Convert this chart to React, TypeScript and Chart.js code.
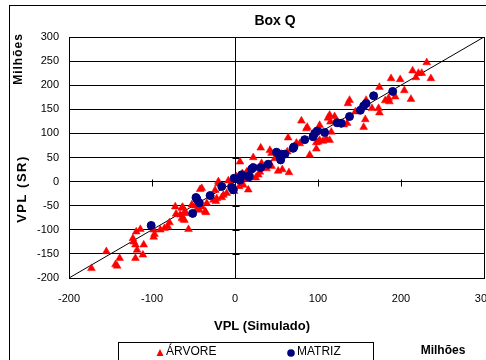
import React, { useEffect, useRef } from "react";
import { Chart, registerables } from "chart.js";
Chart.register(...registerables);

const chartTitle = "Box Q";
const xAxisTitle = "VPL (Simulado)";
const yAxisTitle = "VPL (SR)";
const unitLabel = "Milhões";
const seriesNames = ["ÁRVORE", "MATRIZ"];

const xMin = -200;
const xMax = 300;
const xStep = 100;
const yMin = -200;
const yMax = 300;
const yStep = 50;

const diagonal: [number, number][] = [
  [-200, -200],
  [300, 300],
];

const arvorePoints: [number, number][] = [
  [-173, -180], [-155, -145], [-142, -175], [-139, -159], [-144, -172],
  [-123, -118], [-119, -104], [-114, -99], [-120, -131], [-118, -142], [-110, -131], [-111, -152], [-120, -159], [-122, -125],
  [-98, -100], [-98, -115], [-97, -109], [-90, -100], [-85, -97], [-81, -93], [-79, -85],
  [-72, -52], [-71, -67], [-66, -69], [-62, -78], [-64, -55], [-60, -66], [-56, -99], [-61, -80], [-52, -48],
  [-63, -53], [-60, -62], [-64, -76],
  [-48, -50], [-45, -55], [-40, -52], [-36, -62], [-35, -64], [-34, -45], [-43, -59], [-42, -16],
  [-26, -38], [-23, -41], [-22, -35], [-20, 0], [-20, -4], [-14, -28], [-16, -33], [-10, -24], [-1, -20], [-24, -18], [-40, -14],
  [6, 41], [9, 17], [16, -17], [10, -7], [2, 10], [12, 5], [20, 12], [25, 8], [-5, -5], [5, -10], [30, 20], [-8, 2],
  [31, 70], [22, 50], [44, 59], [65, 19], [64, 91], [80, 126], [86, 110], [90, 55], [98, 68], [114, 138], [112, 132], [120, 135],
  [52, 22], [38, 27], [28, 14], [44, 32], [63, 62], [78, 79], [74, 80], [102, 86], [106, 84], [100, 82], [14, 20], [32, 38],
  [36, 31], [48, 48], [57, 25], [42, 65],
  [231, 247], [236, 214], [225, 225], [221, 225], [218, 216], [214, 230], [188, 214], [199, 212], [174, 196], [204, 189],
  [193, 176], [185, 173], [181, 168], [212, 171], [186, 166], [138, 169], [136, 162], [158, 169], [165, 152], [173, 152],
  [174, 143], [157, 129], [155, 113], [145, 145], [135, 121], [131, 118], [115, 124], [116, 103], [102, 117], [102, 107],
  [87, 113], [98, 81], [114, 86], [110, 89],
];

const matrizPoints: [number, number][] = [
  [-101, -91], [-51, -66], [-47, -33], [-43, -44], [-46, -36], [-30, -29], [-16, -10], [-4, -12], [-2, -17], [-1, 7],
  [6, 5], [8, 14], [16, 11], [6, 3], [17, 10], [20, 26], [22, 29], [31, 29], [40, 36], [50, 61],
  [54, 52], [56, 57], [60, 57], [55, 45], [70, 69], [71, 72], [84, 87], [94, 93], [96, 100], [99, 105],
  [108, 102], [123, 122], [128, 121], [138, 135], [151, 148], [155, 157], [158, 162], [167, 178], [190, 187],
];

const RED = "#ff0000";
const NAVY = "#000080";
const FONT = "'Liberation Sans', Arial, sans-serif";

const toXY = (pts: [number, number][]) => pts.map(([x, y]) => ({ x, y }));

const decorPlugin = {
  id: "decor",
  beforeDraw(chart: any) {
    const ctx = chart.ctx as CanvasRenderingContext2D;
    ctx.save();
    ctx.fillStyle = "#fff";
    ctx.fillRect(0, 0, chart.width, chart.height);
    ctx.strokeStyle = "#000";
    ctx.lineWidth = 1;
    ctx.strokeRect(9.5, 5.5, 600, 500);
    ctx.restore();
  },
  beforeDatasetsDraw(chart: any) {
    const ctx = chart.ctx as CanvasRenderingContext2D;
    const xs = chart.scales.x;
    const ys = chart.scales.y;
    const x0 = Math.round(xs.getPixelForValue(0)) + 0.5;
    const y0 = Math.round(ys.getPixelForValue(0)) + 0.5;
    ctx.save();
    ctx.strokeStyle = "#000";
    ctx.lineWidth = 1;
    ctx.beginPath();
    xs.ticks.forEach((t: any) => {
      const px = Math.round(xs.getPixelForValue(t.value)) + 0.5;
      ctx.moveTo(px, y0 - 3);
      ctx.lineTo(px, y0 + 4);
    });
    ys.ticks.forEach((t: any) => {
      const py = Math.round(ys.getPixelForValue(t.value)) + 0.5;
      ctx.moveTo(x0 - 3, py);
      ctx.lineTo(x0 + 4, py);
    });
    ctx.stroke();
    ctx.restore();
  },
  afterDraw(chart: any) {
    const ctx = chart.ctx as CanvasRenderingContext2D;
    ctx.save();
    ctx.fillStyle = "#000";
    // title
    ctx.font = `bold 14px ${FONT}`;
    ctx.textAlign = "center";
    ctx.textBaseline = "middle";
    ctx.fillText(chartTitle, 275, 21);
    // x axis title
    ctx.font = `bold 13px ${FONT}`;
    ctx.fillText(xAxisTitle, 262, 326);
    // unit under x
    ctx.font = `bold 12px ${FONT}`;
    ctx.fillText(unitLabel, 443, 351);
    // rotated y texts
    ctx.save();
    ctx.translate(22, 189);
    ctx.rotate(-Math.PI / 2);
    ctx.font = `bold 13px ${FONT}`;
    (ctx as any).letterSpacing = "1.5px";
    ctx.fillText(yAxisTitle, 0, 0);
    ctx.restore();
    ctx.save();
    ctx.translate(19, 59);
    ctx.rotate(-Math.PI / 2);
    ctx.font = `bold 12px ${FONT}`;
    (ctx as any).letterSpacing = "1px";
    ctx.fillText(unitLabel, 0, 0);
    ctx.restore();
    // legend box
    ctx.strokeStyle = "#000";
    ctx.lineWidth = 1;
    ctx.strokeRect(118.5, 342.5, 255, 40);
    ctx.font = `12px ${FONT}`;
    ctx.textAlign = "left";
    // triangle marker
    ctx.fillStyle = RED;
    ctx.beginPath();
    ctx.moveTo(160, 349);
    ctx.lineTo(163.5, 356);
    ctx.lineTo(156.5, 356);
    ctx.closePath();
    ctx.fill();
    ctx.fillStyle = "#000";
    ctx.fillText(seriesNames[0], 166, 352);
    ctx.fillStyle = NAVY;
    ctx.beginPath();
    ctx.arc(291, 353, 3.8, 0, Math.PI * 2);
    ctx.fill();
    ctx.fillStyle = "#000";
    ctx.fillText(seriesNames[1], 297, 352);
    ctx.restore();
  },
};

export default function App() {
  const ref = useRef<HTMLCanvasElement | null>(null);
  useEffect(() => {
    if (!ref.current) return;
    const chart = new Chart(ref.current, {
      type: "scatter",
      data: {
        datasets: [
          {
            label: seriesNames[1],
            data: toXY(matrizPoints),
            pointStyle: "circle",
            pointRadius: 4,
            pointHoverRadius: 4,
            backgroundColor: NAVY,
            borderColor: NAVY,
            borderWidth: 1,
            order: 0,
          },
          {
            label: seriesNames[0],
            data: toXY(arvorePoints),
            pointStyle: "triangle",
            pointRadius: 4.5,
            pointHoverRadius: 4.5,
            backgroundColor: RED,
            borderColor: RED,
            borderWidth: 0.5,
            order: 1,
          },
          {
            label: "diagonal",
            data: toXY(diagonal),
            showLine: true,
            pointRadius: 0,
            borderColor: "#000",
            borderWidth: 1,
            order: 2,
          } as any,
        ],
      },
      options: {
        responsive: false,
        animation: false,
        devicePixelRatio: 1,
        layout: { padding: { left: 12, top: 37, right: 46, bottom: 62 } },
        plugins: {
          legend: { display: false },
          title: { display: false },
          tooltip: { enabled: false },
        },
        scales: {
          x: {
            type: "linear",
            min: xMin,
            max: xMax,
            afterFit: (s: any) => {
              s.height = 40;
            },
            ticks: {
              stepSize: xStep,
              padding: 14,
              color: "#000",
              font: { family: FONT, size: 11 },
            },
            grid: {
              drawTicks: false,
              color: (c: any) =>
                c.tick && (c.tick.value === 0 || c.tick.value === xMax) ? "#000" : "rgba(0,0,0,0)",
              lineWidth: 1,
            },
            border: { display: true, color: "#000" },
          },
          y: {
            type: "linear",
            min: yMin,
            max: yMax,
            afterFit: (s: any) => {
              s.width = 57;
            },
            ticks: {
              stepSize: yStep,
              padding: 10,
              color: "#000",
              font: { family: FONT, size: 11 },
            },
            grid: { drawTicks: false, color: "#000", lineWidth: 1 },
            border: { display: true, color: "#000" },
          },
        },
      },
      plugins: [decorPlugin],
    });
    return () => chart.destroy();
  }, []);
  return (
    <div
      style={{
        position: "fixed",
        left: 0,
        top: 0,
        width: 486,
        height: 360,
        overflow: "hidden",
        background: "#fff",
      }}
    >
      <canvas ref={ref} width={530} height={380} style={{ width: 530, height: 380, display: "block" }} />
    </div>
  );
}
